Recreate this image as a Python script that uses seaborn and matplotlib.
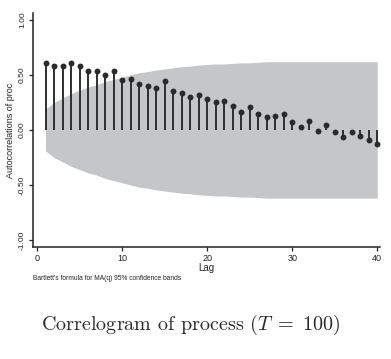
import seaborn as sns
import matplotlib.pyplot as plt
import pandas as pd

lags = list(range(1, 41))
acf = [0.61, 0.58, 0.58, 0.61, 0.58, 0.54, 0.54, 0.50, 0.54, 0.45,
       0.46, 0.42, 0.40, 0.385, 0.445, 0.355, 0.336, 0.30, 0.318, 0.28,
       0.25, 0.26, 0.22, 0.16, 0.21, 0.145, 0.12, 0.13, 0.145, 0.07,
       0.03, 0.085, -0.01, 0.045, -0.02, -0.065, -0.02, -0.055, -0.09, -0.13]
band = [0.19, 0.25, 0.29, 0.33, 0.36, 0.39, 0.41, 0.44, 0.46, 0.48,
        0.50, 0.52, 0.53, 0.545, 0.555, 0.565, 0.575, 0.58, 0.59, 0.595,
        0.60, 0.60, 0.605, 0.61, 0.61, 0.615, 0.62, 0.62, 0.62, 0.62,
        0.62, 0.62, 0.62, 0.62, 0.62, 0.62, 0.62, 0.62, 0.62, 0.62]
yticks = [-1.0, -0.5, 0.0, 0.5, 1.0]
ytick_labels = ['-1.00', '-0.50', '0.00', '0.50', '1.00']
xticks = [0, 10, 20, 30, 40]

df = pd.DataFrame({'lag': lags, 'acf': acf, 'band': band})

sns.set_style('ticks')
plt.rcParams['font.family'] = ['Liberation Sans', 'DejaVu Sans']
plt.rcParams['mathtext.fontset'] = 'cm'

fig = plt.figure(figsize=(3.91, 3.59), dpi=100)
ax = fig.add_axes([0.0844, 0.312, 0.888, 0.652])

# banda de confianza
ax.fill_between(df['lag'], -df['band'], df['band'], color='#c4c6c8', lw=0, zorder=1)

# palos y puntos
ax.vlines(df['lag'], 0, df['acf'], color='#2e2e2e', lw=1.4, zorder=2)
sns.scatterplot(data=df, x='lag', y='acf', ax=ax, color='#2a2a2a', s=18,
                edgecolor='#2a2a2a', linewidth=0, zorder=3, legend=False)

ax.set_xlim(-0.47, 40.35)
ax.set_ylim(-1.064, 1.064)
ax.set_yticks(yticks)
ax.set_yticklabels(ytick_labels, rotation=90, va='center', fontsize=6)
ax.set_xticks(xticks)
ax.set_xticklabels([str(t) for t in xticks], fontsize=6.5)
ax.tick_params(axis='both', length=3, width=0.9, pad=2, colors='#222222')
ax.set_xlabel('Lag', fontsize=7, labelpad=0, color='#222222')
ax.set_ylabel('Autocorrelations of proc', fontsize=6.5, labelpad=3, color='#222222')
sns.despine(ax=ax)
for s in ['left', 'bottom']:
    ax.spines[s].set_linewidth(1.1)
    ax.spines[s].set_color('#222222')

fig.text(0.0844, 0.225, "Bartlett's formula for MA(q) 95% confidence bands",
         fontsize=4.8, ha='left', va='center', color='#222222')
fig.text(0.488, 0.095, r'Correlogram of process $(T\;=\;100)$',
         fontfamily='cmr10', fontsize=14.5, ha='center', va='center', color='#2a2a2a')

fig.savefig('out.png', dpi=100)
